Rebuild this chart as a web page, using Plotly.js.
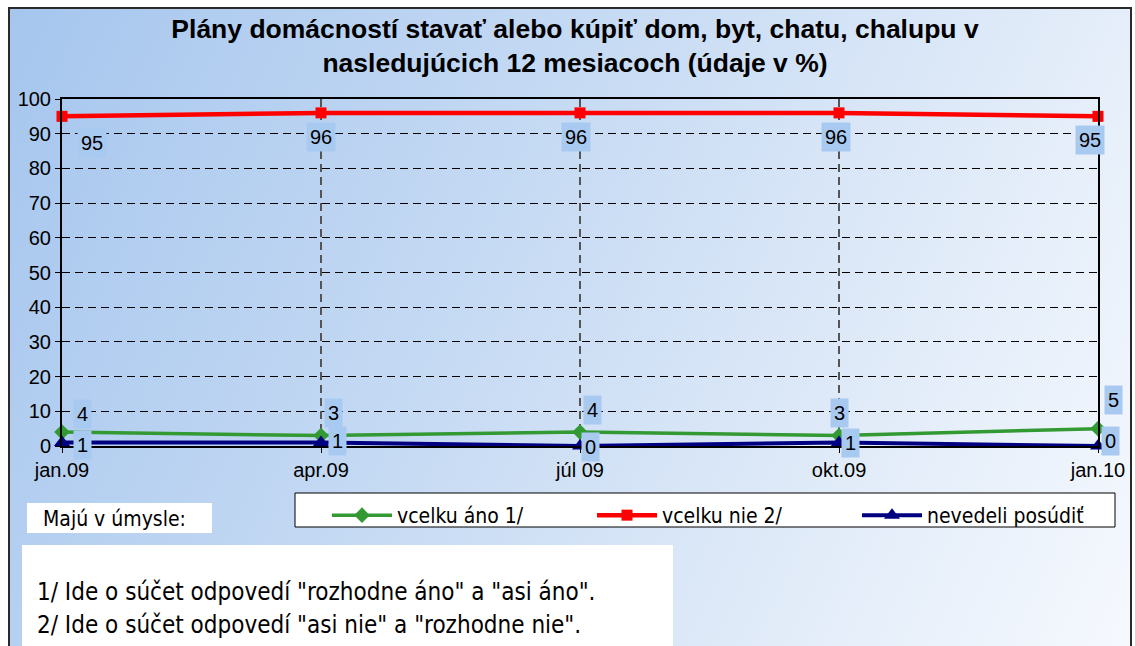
<!DOCTYPE html>
<html>
<head>
<meta charset="utf-8">
<script src="https://cdn.plot.ly/plotly-3.0.1.min.js"></script>
<style>
  html, body { margin: 0; padding: 0; background: #ffffff; }
  #frame {
    position: absolute; left: 8px; top: 7px; width: 1124px; height: 650px;
    border: 2px solid #2a2a2a; box-sizing: border-box;
    background: linear-gradient(115deg, #a6c6ee 0%, #c4d9f3 40%, #e2ecf9 75%, #f6f9fe 100%);
  }
  #chart { position: absolute; left: 0; top: 0; width: 1135px; height: 646px; }
</style>
</head>
<body>
<div id="frame"></div>
<div id="chart"></div>
<script>
// ---- data ----
const categories = ["jan.09", "apr.09", "júl 09", "okt.09", "jan.10"];
const vcelkuAno = [4, 3, 4, 3, 5];
const vcelkuNie = [95, 96, 96, 96, 95];
const nevedeli = [1, 1, 0, 1, 0];
const yTicks = [0, 10, 20, 30, 40, 50, 60, 70, 80, 90, 100];
const seriesNames = ["vcelku áno 1/", "vcelku nie 2/", "nevedeli posúdiť"];

// ---- styling ----
const W = 1135, H = 646;
const M = { l: 62, r: 37, t: 99, b: 200 };
const PW = W - M.l - M.r, PH = H - M.t - M.b;
const px2x = p => (p - M.l) / PW;
const px2y = p => (H - M.b - p) / PH;
const narrow = "DejaVu Sans Condensed, Liberation Sans Narrow, Arial Narrow, Liberation Sans, sans-serif";
const sans = "Liberation Sans, Arial, sans-serif";
const labelBg = "#a9caf0";

const colors = ["#339933", "#ff0000", "#000080"];
const xIdx = categories.map((c, i) => i);

const traces = [
  { x: xIdx, y: vcelkuAno, name: seriesNames[0], mode: "lines+markers",
    line: { color: colors[0], width: 3.5 }, marker: { symbol: "diamond", size: 12, color: colors[0] } },
  { x: xIdx, y: vcelkuNie, name: seriesNames[1], mode: "lines+markers",
    line: { color: colors[1], width: 4.5 }, marker: { symbol: "square", size: 11, color: colors[1] } },
  { x: xIdx, y: nevedeli, name: seriesNames[2], mode: "lines+markers",
    line: { color: colors[2], width: 4 }, marker: { symbol: "triangle-up", size: 14, color: colors[2] } }
].map(t => Object.assign(t, { cliponaxis: false, hoverinfo: "skip" }));

// label offsets (pixels) per series, per point
const labelShift = [
  [[20, 18], [12, 23], [12, 22], [0, 23], [15, 29]],
  [[30, -27], [0, -24], [-4, -24], [-3, -24], [-8, -24]],
  [[20, -2], [16, 2], [10, -1], [11, 0], [12, 5]]
];
const seriesVals = [vcelkuAno, vcelkuNie, nevedeli];
const annotations = [];
seriesVals.forEach((vals, s) => {
  vals.forEach((v, i) => {
    annotations.push({
      x: xIdx[i], y: v, xref: "x", yref: "y", text: String(v), showarrow: false,
      xshift: labelShift[s][i][0], yshift: labelShift[s][i][1],
      bgcolor: labelBg, borderpad: 3,
      font: { family: sans, size: 20, color: "#000" }
    });
  });
});
annotations.push({
  xref: "paper", yref: "paper", x: px2x(41), y: px2y(519), xanchor: "left", yanchor: "middle",
  text: "Majú v úmysle:", showarrow: false, font: { family: narrow, size: 21, color: "#000" }
});
annotations.push({
  xref: "paper", yref: "paper", x: px2x(35), y: px2y(592), xanchor: "left", yanchor: "middle",
  text: "1/ Ide o súčet odpovedí \"rozhodne áno\" a \"asi áno\".", showarrow: false,
  font: { family: narrow, size: 24, color: "#000" }
});
annotations.push({
  xref: "paper", yref: "paper", x: px2x(35), y: px2y(625), xanchor: "left", yanchor: "middle",
  text: "2/ Ide o súčet odpovedí \"asi nie\" a \"rozhodne nie\".", showarrow: false,
  font: { family: narrow, size: 24, color: "#000" }
});

const shapes = [
  { type: "rect", xref: "paper", yref: "paper", layer: "below",
    x0: px2x(27), x1: px2x(212), y0: px2y(533), y1: px2y(503),
    fillcolor: "#ffffff", line: { width: 0 } },
  { type: "rect", xref: "paper", yref: "paper", layer: "below",
    x0: px2x(22), x1: px2x(673), y0: px2y(660), y1: px2y(545),
    fillcolor: "#ffffff", line: { width: 0 } },
  { type: "rect", xref: "paper", yref: "paper", layer: "below",
    x0: px2x(295), x1: px2x(1115), y0: px2y(527), y1: px2y(493),
    fillcolor: "#ffffff", line: { width: 1, color: "#000" } }
];

const layout = {
  width: W, height: H, margin: M,
  paper_bgcolor: "rgba(0,0,0,0)", plot_bgcolor: "rgba(0,0,0,0)",
  title: {
    text: "Plány domácností stavať alebo kúpiť dom, byt, chatu, chalupu v<br>nasledujúcich 12 mesiacoch (údaje v %)",
    font: { family: sans, size: 26.5, color: "#000", weight: "bold" },
    xref: "container", x: 575 / W, yref: "container", y: 1 - 38 / H, yanchor: "top"
  },
  xaxis: {
    range: [0, 4], tickmode: "array", tickvals: xIdx, ticktext: categories,
    showgrid: true, gridcolor: "#555555", griddash: "8px,5px", gridwidth: 1.5,
    showline: true, linecolor: "#000", linewidth: 2, mirror: true,
    ticks: "outside", ticklen: 5, tickcolor: "#000",
    tickfont: { family: sans, size: 20, color: "#000" }, zeroline: false, fixedrange: true
  },
  yaxis: {
    range: [0, 100], tickmode: "array", tickvals: yTicks,
    showgrid: true, gridcolor: "#000000", griddash: "8px,5px", gridwidth: 1,
    showline: true, linecolor: "#000", linewidth: 2, mirror: true,
    ticks: "outside", ticklen: 5, tickcolor: "#000",
    tickfont: { family: sans, size: 20, color: "#000" }, zeroline: false, fixedrange: true
  },
  showlegend: true,
  legend: {
    orientation: "h", xref: "paper", yref: "paper", x: px2x(1122), y: px2y(495),
    xanchor: "right", yanchor: "top", bgcolor: "rgba(0,0,0,0)", borderwidth: 0,
    font: { family: narrow, size: 21, color: "#000" },
    entrywidth: 190, entrywidthmode: "pixels", itemwidth: 60, traceorder: "normal"
  },
  annotations: annotations, shapes: shapes
};

Plotly.newPlot("chart", traces, layout, { displayModeBar: false, staticPlot: true });
</script>
</body>
</html>
